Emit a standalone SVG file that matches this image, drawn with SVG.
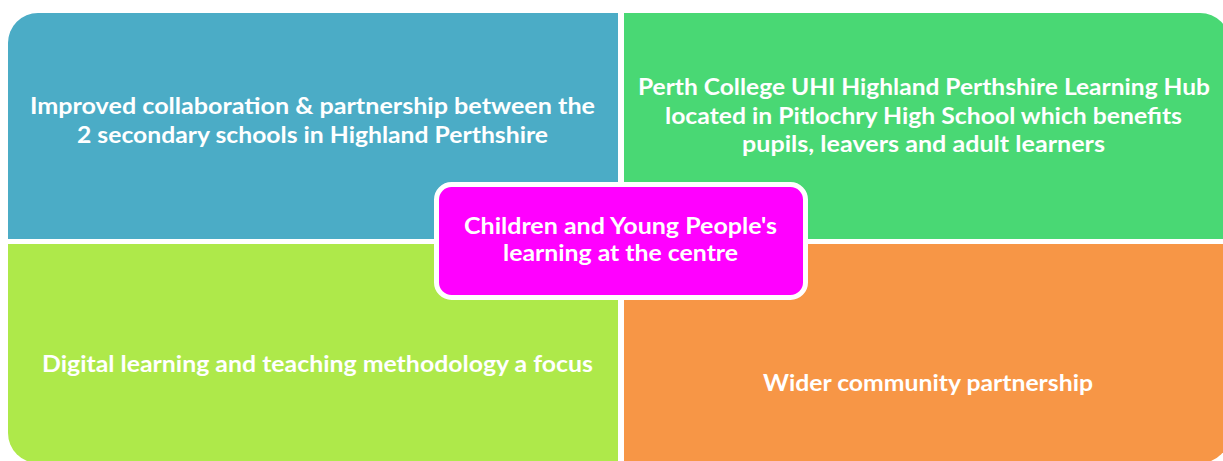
<svg xmlns="http://www.w3.org/2000/svg" width="1223" height="461" viewBox="0 0 1223 461">
  <style>
    .t { font-family: Lato, "Open Sans", "Liberation Sans", sans-serif; font-weight: bold; fill: #ffffff; text-anchor: middle; font-size: 22px; }
  </style>
  <rect width="1223" height="461" fill="#ffffff"/>
  <g id="node-collaboration">
    <path d="M8,43 A30,30 0 0 1 38,13 H618 V239 H8 Z" fill="#4BACC6"/>
    <text class="t" x="312.5" y="114" textLength="565" lengthAdjust="spacingAndGlyphs">Improved collaboration &amp; partnership between the</text>
    <text class="t" x="312.5" y="143" textLength="471" lengthAdjust="spacingAndGlyphs">2 secondary schools in Highland Perthshire</text>
  </g>
  <g id="node-learning-hub">
    <path d="M624,13 H1200 A30,30 0 0 1 1230,43 V239 H624 Z" fill="#49D874"/>
    <text class="t" x="924" y="95" textLength="572" lengthAdjust="spacingAndGlyphs">Perth College UHI Highland Perthshire Learning Hub</text>
    <text class="t" x="923.5" y="123.5" textLength="517" lengthAdjust="spacingAndGlyphs">located in Pitlochry High School which benefits</text>
    <text class="t" x="923.5" y="152" textLength="363" lengthAdjust="spacingAndGlyphs">pupils, leavers and adult learners</text>
  </g>
  <g id="node-digital">
    <path d="M8,244 H618 V463 H38 A30,30 0 0 1 8,433 Z" fill="#AEE94A"/>
    <text class="t" x="317.5" y="372" textLength="551" lengthAdjust="spacingAndGlyphs">Digital learning and teaching methodology a focus</text>
  </g>
  <g id="node-community">
    <path d="M624,244 H1230 V433 A30,30 0 0 1 1200,463 H624 Z" fill="#F79646"/>
    <text class="t" x="928" y="391" textLength="330" lengthAdjust="spacingAndGlyphs">Wider community partnership</text>
  </g>
  <g id="connectors"></g>
  <g id="node-centre">
    <rect x="436.5" y="184.5" width="369" height="113" rx="15" ry="15" fill="#FF00FF" stroke="#ffffff" stroke-width="5"/>
    <text class="t" x="620.5" y="234" textLength="313" lengthAdjust="spacingAndGlyphs">Children and Young People's</text>
    <text class="t" x="620.5" y="261" textLength="235" lengthAdjust="spacingAndGlyphs">learning at the centre</text>
  </g>
</svg>
